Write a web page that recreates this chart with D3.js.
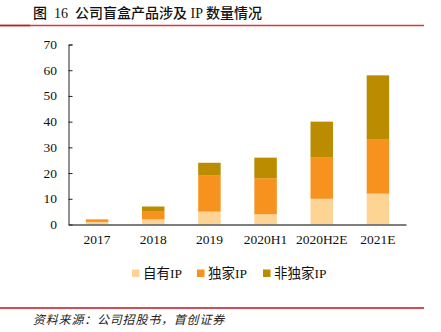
<!DOCTYPE html>
<html>
<head>
<meta charset="utf-8">
<script src="https://cdn.jsdelivr.net/npm/d3@7"></script>
<style>
  body { margin: 0; background: #fff; }
  svg text { font-family: "Liberation Serif", "Noto Sans CJK SC", serif; }
</style>
</head>
<body>
<div id="wrap"></div>
<script>
// categories and IP counts per type
var years = ["2017", "2018", "2019", "2020H1", "2020H2E", "2021E"];
var ownIP = [1, 2, 5, 4, 10, 12];
var exclusiveIP = [1, 3, 14, 14, 16, 21];
var nonExclusiveIP = [0, 2, 5, 8, 14, 25];
var seriesNames = ["自有IP", "独家IP", "非独家IP"];
var yTicks = [0, 10, 20, 30, 40, 50, 60, 70];

var colors = ["#fdd494", "#f7921e", "#bb8b00"];

var W = 441, H = 332;
var svg = d3.select("#wrap").append("svg")
    .attr("width", W)
    .attr("height", H);

// title and its rule
svg.append("text")
    .attr("x", 33).attr("y", 18)
    .attr("font-size", 14)
    .attr("font-weight", 500)
    .attr("fill", "#111")
    .style("font-family", "'Liberation Serif', 'Noto Sans CJK SC', serif")
    .attr("xml:space", "preserve")
    .text("图  16  公司盲盒产品涉及 IP 数量情况");

svg.append("line")
    .attr("x1", 0).attr("x2", 424)
    .attr("y1", 25.5).attr("y2", 25.5)
    .attr("stroke", "#d9393e").attr("stroke-width", 1.5);
svg.append("line")
    .attr("x1", 0).attr("x2", 30)
    .attr("y1", 25.5).attr("y2", 25.5)
    .attr("stroke", "#b0202a").attr("stroke-width", 1.5);

// stacked rows
var rows = years.map(function(y, i) {
    return { year: y, own: ownIP[i], excl: exclusiveIP[i], nonex: nonExclusiveIP[i] };
});
var stack = d3.stack().keys(["own", "excl", "nonex"]);
var layers = stack(rows);

var x = d3.scaleBand().domain(years).range([69, 406]).paddingInner(0.6).paddingOuter(0.3);
var y = d3.scaleLinear().domain([0, 70]).range([224.5, 44.5]);

var g = svg.append("g");

g.selectAll("g.layer")
    .data(layers)
    .enter()
    .append("g")
    .attr("class", "layer")
    .attr("fill", function(d, i) { return colors[i]; })
    .selectAll("rect")
    .data(function(d) { return d; })
    .enter()
    .append("rect")
    .attr("x", function(d) { return x(d.data.year); })
    .attr("width", x.bandwidth())
    .attr("y", function(d) { return y(d[1]); })
    .attr("height", function(d) { return y(d[0]) - y(d[1]); });

// y axis with inner ticks
var yAxis = svg.append("g")
    .attr("transform", "translate(68.5,0)")
    .call(d3.axisRight(y).tickValues(yTicks).tickSize(4).tickFormat(""));
yAxis.select(".domain").attr("stroke", "#222");
yAxis.selectAll(".tick line").attr("stroke", "#222");

svg.append("g")
    .selectAll("text")
    .data(yTicks)
    .enter()
    .append("text")
    .attr("x", 57)
    .attr("y", function(d) { return y(d) + 4.5; })
    .attr("text-anchor", "end")
    .attr("font-size", 13.5)
    .attr("fill", "#111")
    .text(function(d) { return d; });

// x axis
var xAxis = svg.append("g")
    .attr("transform", "translate(0,224.5)")
    .call(d3.axisBottom(x).tickSize(0).tickPadding(10));
xAxis.select(".domain").attr("stroke", "#555").attr("stroke-width", 1.5);
xAxis.selectAll("text")
    .attr("font-size", 13.5)
    .attr("fill", "#111")
    .style("font-family", "'Liberation Serif', serif");

// legend
var legendX = [132, 197, 263];
var legend = svg.append("g");
seriesNames.forEach(function(name, i) {
    legend.append("rect")
        .attr("x", legendX[i]).attr("y", 269.5)
        .attr("width", 7.5).attr("height", 7.5)
        .attr("fill", colors[i]);
    legend.append("text")
        .attr("x", legendX[i] + 11).attr("y", 278)
        .attr("font-size", 13.5)
        .attr("fill", "#111")
        .text(name);
});

// footer rule and source
svg.append("line")
    .attr("x1", 0).attr("x2", 424)
    .attr("y1", 308).attr("y2", 308)
    .attr("stroke", "#c8101e").attr("stroke-width", 1.5);

svg.append("text")
    .attr("x", 33).attr("y", 324)
    .attr("font-size", 12)
    .attr("font-style", "italic")
    .attr("letter-spacing", 0.8)
    .attr("fill", "#222")
    .style("font-family", "'Noto Sans CJK SC', sans-serif")
    .text("资料来源：公司招股书，首创证券");
</script>
</body>
</html>
